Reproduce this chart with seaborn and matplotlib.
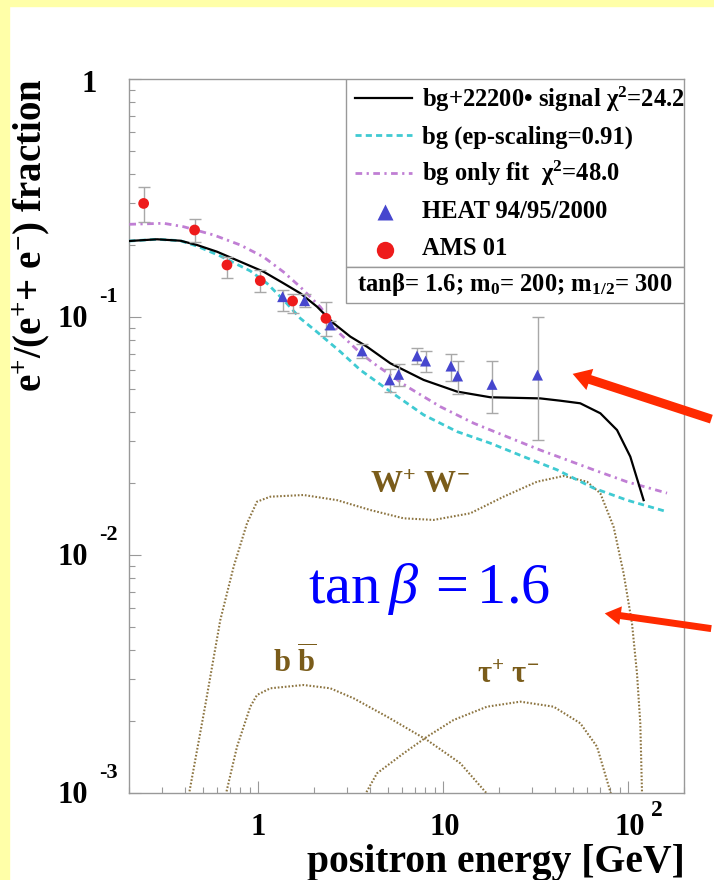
import matplotlib
matplotlib.use("Agg")
import matplotlib.pyplot as plt
import matplotlib.transforms as mtransforms
from matplotlib.lines import Line2D
from matplotlib.patches import Rectangle, FancyArrowPatch
from matplotlib.ticker import FixedLocator, LogLocator, NullFormatter
import seaborn as sns

# ---------------- data ----------------
ams_e = [0.240, 0.4525, 0.677, 1.025, 1.532, 2.32]
ams_frac = [0.300, 0.232, 0.1654, 0.1421, 0.1167, 0.0987]
ams_lo = [0.2514, 0.2072, 0.1454, 0.1277, 0.1042, 0.0832]
ams_hi = [0.3508, 0.2580, 0.1781, 0.1576, 0.1245, 0.1152]

heat_e = [1.353, 1.779, 2.449, 3.636, 5.125, 5.733, 7.21, 8.02, 11.0, 11.95, 18.33, 32.3]
heat_frac = [0.1217, 0.1171, 0.0926, 0.0720, 0.0544, 0.0574, 0.0686, 0.0653, 0.0622, 0.0565, 0.0521, 0.0570]
heat_lo = [0.1063, 0.1105, 0.0891, 0.0675, 0.0486, 0.0513, 0.0633, 0.0589, 0.0540, 0.0475, 0.0396, 0.0304]
heat_hi = [0.1299, 0.1249, 0.0962, 0.0770, 0.0605, 0.0633, 0.0741, 0.0722, 0.0699, 0.0655, 0.0655, 0.1003]

signal_e = [0.2008, 0.2835, 0.3788, 0.4661, 0.5979, 0.7991, 1.068, 1.370, 1.687, 2.077, 2.553,
            3.143, 3.869, 5.171, 7.827, 11.86, 17.95, 33.42, 42.85, 54.95, 70.6, 86.9, 102.5, 121.0]
signal_frac = [0.2086, 0.2121, 0.2092, 0.2007, 0.1881, 0.1708, 0.1550, 0.1385, 0.1258, 0.1105, 0.0941,
               0.0827, 0.0750, 0.0639, 0.0544, 0.0486, 0.0460, 0.0455, 0.0445, 0.0434, 0.0394, 0.0335,
               0.0259, 0.0170]

bgscale_e = [0.2008, 0.2835, 0.3788, 0.4661, 0.6230, 0.9052, 1.114, 1.370, 1.687, 2.077, 2.775,
             3.559, 5.171, 7.827, 11.86, 17.95, 27.17, 41.18, 64.93, 98.4, 161.9]
bgscale_frac = [0.2086, 0.2121, 0.2092, 0.1985, 0.1804, 0.1561, 0.1385, 0.1179, 0.0987, 0.0865, 0.0715,
                0.0599, 0.0486, 0.0388, 0.0330, 0.0295, 0.0259, 0.0228, 0.0191, 0.0170, 0.0152]

bgfit_e = [0.2008, 0.3078, 0.3946, 0.5733, 0.7991, 1.068, 1.370, 1.687, 2.163, 2.775, 3.559, 4.201,
           6.366, 9.634, 14.58, 22.10, 33.42, 42.85, 64.93, 98.4, 161.9]
bgfit_frac = [0.2452, 0.2476, 0.2395, 0.2211, 0.2007, 0.1787, 0.1545, 0.1337, 0.1102, 0.0848, 0.0706,
              0.0639, 0.0510, 0.0420, 0.0358, 0.0314, 0.0276, 0.0257, 0.0228, 0.0203, 0.0182]

ww_e = [0.418, 0.517, 0.623, 0.7356, 0.8689, 0.984, 1.161, 1.757, 2.664, 4.031, 6.101, 8.864, 13.99,
        21.18, 32.10, 44.70, 59.8, 70.6, 83.25, 94.3, 104.7, 111.4, 116.1, 118.8]
ww_frac = [0.00095, 0.00234, 0.00533, 0.00893, 0.01359, 0.01675, 0.01758, 0.01787, 0.0170, 0.01545,
           0.01426, 0.01404, 0.01497, 0.01758, 0.02032, 0.02148, 0.02032, 0.01816, 0.01315, 0.00838,
           0.00516, 0.00318, 0.00196, 0.00095]

bb_e = [0.660, 0.767, 0.9052, 0.984, 1.161, 1.757, 2.450, 3.274, 4.963, 8.166, 12.36, 18.1]
bb_frac = [0.00095, 0.001565, 0.002305, 0.002582, 0.002754, 0.002843, 0.002754, 0.002500, 0.002093,
           0.001670, 0.001333, 0.00095]

tau_e = [3.68, 4.381, 6.101, 8.166, 11.37, 17.23, 26.08, 39.48, 55.03, 67.74, 81.9]
tau_frac = [0.00095, 0.001210, 0.001468, 0.001724, 0.002027, 0.002305, 0.002420, 0.002305, 0.001963,
            0.001565, 0.00095]

legend_labels = [
    "bg+22200\u2022 signal \u03c7$^{\\mathbf{2}}$=24.2",
    "bg (ep-scaling=0.91)",
    "bg only fit  \u03c7$^{\\mathbf{2}}$=48.0",
    "HEAT 94/95/2000",
    "AMS 01",
]
param_text = "tan\u03b2= 1.6; m$_{\\mathbf{0}}$= 200; m$_{\\mathbf{1/2}}$= 300"

# ---------------- style ----------------
plt.rcParams["font.family"] = ["Liberation Serif", "DejaVu Serif"]
plt.rcParams["mathtext.fontset"] = "custom"
plt.rcParams["mathtext.rm"] = "Liberation Serif"
plt.rcParams["mathtext.it"] = "Liberation Serif:italic"
plt.rcParams["mathtext.bf"] = "Liberation Serif:bold"

YEL = "#FFFFA8"
CYAN = "#3FCAD2"
MAG = "#C07ED4"
BROWN = "#8C7440"
LABEL_BROWN = "#7A5C1A"
BLUE = "#4646CE"
RED = "#EE1B1B"
GRAY = "#999999"
W, H = 714, 880
AX_L, AX_R, AX_T, AX_B = 129, 684, 79, 793

fig = plt.figure(figsize=(W / 100, H / 100), dpi=100)
fig.patch.set_facecolor("white")
fig.add_artist(Rectangle((0, 0), 9 / W, 1, transform=fig.transFigure, color=YEL, zorder=0))
fig.add_artist(Rectangle((0, 1 - 6 / H), 1, 6 / H, transform=fig.transFigure, color=YEL, zorder=0))

ax = fig.add_axes([AX_L / W, (H - AX_B) / H, (AX_R - AX_L) / W, (AX_B - AX_T) / H])
ax.set_xscale("log")
ax.set_yscale("log")
ax.set_xlim(0.2, 200)
ax.set_ylim(1e-3, 1)


def P(px, py):
    """pixel position in the picture -> axes fraction"""
    return (px - AX_L) / (AX_R - AX_L), (AX_B - py) / (AX_B - AX_T)


# ---------------- curves ----------------
common = dict(ax=ax, estimator=None, sort=False, legend=False)
dot = (0, (0.8, 0.9))
dash = (0, (2.2, 1.5))
dashdot = (0, (2.4, 1.6, 0.8, 1.6))
sns.lineplot(x=ww_e, y=ww_frac, color=BROWN, lw=1.5, linestyle=dot, zorder=2, **common)
sns.lineplot(x=bb_e, y=bb_frac, color=BROWN, lw=1.5, linestyle=dot, zorder=2, **common)
sns.lineplot(x=tau_e, y=tau_frac, color=BROWN, lw=1.5, linestyle=dot, zorder=2, **common)
sns.lineplot(x=bgscale_e, y=bgscale_frac, color=CYAN, lw=2.0, linestyle=dash, zorder=3, **common)
sns.lineplot(x=bgfit_e, y=bgfit_frac, color=MAG, lw=2.0, linestyle=dashdot, zorder=3, **common)
sns.lineplot(x=signal_e, y=signal_frac, color="black", lw=1.6, zorder=4, **common)

# ---------------- data points ----------------
ax.errorbar(ams_e, ams_frac,
            yerr=[[m - l for m, l in zip(ams_frac, ams_lo)], [h - m for m, h in zip(ams_frac, ams_hi)]],
            fmt="none", ecolor="#A8A8A8", elinewidth=1, capsize=4, capthick=1, zorder=4.5)
ax.errorbar(heat_e, heat_frac,
            yerr=[[m - l for m, l in zip(heat_frac, heat_lo)], [h - m for m, h in zip(heat_frac, heat_hi)]],
            fmt="none", ecolor="#A8A8A8", elinewidth=1, capsize=4, capthick=1, zorder=4.5)
sns.scatterplot(x=heat_e, y=heat_frac, ax=ax, marker="^", s=62, color=BLUE, edgecolor="none",
                legend=False, zorder=5)
sns.scatterplot(x=ams_e, y=ams_frac, ax=ax, marker="o", s=60, color=RED, edgecolor="none",
                legend=False, zorder=5)

# ---------------- axes, ticks ----------------
for s in ax.spines.values():
    s.set_color(GRAY)
    s.set_linewidth(1)
ax.xaxis.set_major_locator(FixedLocator([1, 10, 100]))
ax.xaxis.set_minor_locator(LogLocator(base=10, subs=[2, 3, 4, 5, 6, 7, 8, 9], numticks=20))
ax.yaxis.set_major_locator(FixedLocator([1e-3, 1e-2, 1e-1, 1]))
ax.yaxis.set_minor_locator(LogLocator(base=10, subs=[2, 3, 4, 5, 6, 7, 8, 9], numticks=20))
ax.xaxis.set_minor_formatter(NullFormatter())
ax.yaxis.set_minor_formatter(NullFormatter())
ax.tick_params(which="both", direction="in", top=False, right=False, colors=GRAY,
               labelbottom=False, labelleft=False, width=0.8)
ax.tick_params(which="major", length=8.5)
ax.tick_params(which="minor", length=4.5)

tick_font = dict(family="Liberation Serif", weight="bold", color="black")
ytr = mtransforms.blended_transform_factory(ax.transAxes, ax.transData)
xtr = mtransforms.blended_transform_factory(ax.transData, ax.transAxes)
for val, lab, exp in [(1e-1, "10", "-1"), (1e-2, "10", "-2"), (1e-3, "10", "-3")]:
    ax.annotate(lab, xy=(0, val), xycoords=ytr, xytext=(-41, -10), textcoords="offset pixels",
                ha="right", va="baseline", fontsize=22, **tick_font)
    ax.annotate(exp, xy=(0, val), xycoords=ytr, xytext=(-30, 15), textcoords="offset pixels",
                ha="left", va="baseline", fontsize=16, **tick_font)
ax.annotate("1", xy=(0, 1), xycoords=ytr, xytext=(-32, -13), textcoords="offset pixels",
            ha="right", va="baseline", fontsize=22, **tick_font)
for val, lab, dx in [(1, "1", 0), (10, "10", 1), (100, "10", 1.5)]:
    ax.annotate(lab, xy=(val, 0), xycoords=xtr, xytext=(dx, -42), textcoords="offset pixels",
                ha="center", va="baseline", fontsize=22, **tick_font)
ax.annotate("2", xy=(100, 0), xycoords=xtr, xytext=(29, -23), textcoords="offset pixels",
            ha="center", va="baseline", fontsize=17, **tick_font)

fig.text(685 / W, 8.5 / H, "positron energy [GeV]", ha="right", va="baseline", fontsize=28.5,
         fontweight="bold")
fig.text(31 / W, (H - 235) / H, "e$^{\\mathbf{+}}$/(e$^{\\mathbf{+}}$+ e$^{\\mathbf{-}}$) fraction",
         rotation=90, ha="center", va="center", fontsize=28, fontweight="bold")

# ---------------- annotations ----------------
ax.text(*P(370, 493), "W$^{\\mathbf{+}}$ W$^{\\mathbf{-}}$", transform=ax.transAxes, ha="left",
        va="baseline", fontsize=23, fontweight="bold", color=LABEL_BROWN)
ax.text(*P(273, 673), "$\\mathbf{b}\\ \\overline{\\mathbf{b}}$", transform=ax.transAxes, ha="left",
        va="baseline", fontsize=22, color=LABEL_BROWN)
ax.text(*P(477, 683), "\u03c4$^{\\mathbf{+}}$ \u03c4$^{\\mathbf{-}}$", transform=ax.transAxes, ha="left",
        va="baseline", fontsize=22, fontweight="bold", color=LABEL_BROWN)
ax.text(*P(308, 603), "$\\mathrm{tan}\\:\\beta\\:=1.6$", transform=ax.transAxes, ha="left",
        va="baseline", fontsize=42, color="#0000FF")

# ---------------- legend (boxed, ROOT style) ----------------
lx0, ly0 = P(346, 303)
lx1, lymid = P(684, 267)
ax.add_patch(Rectangle((lx0, lymid), lx1 - lx0, 1 - lymid, transform=ax.transAxes, facecolor="white",
                       edgecolor=GRAY, lw=1, zorder=6))
ax.add_patch(Rectangle((lx0, ly0), lx1 - lx0, lymid - ly0, transform=ax.transAxes, facecolor="white",
                       edgecolor=GRAY, lw=1, zorder=6))
row_sample_y = [98.3, 135, 173.3, 211.7, 250]
row_base_y = [106.7, 144, 180.5, 218.3, 255]
samples = [
    dict(color="black", lw=1.6),
    dict(color=CYAN, lw=2.0, ls=dash),
    dict(color=MAG, lw=2.0, ls=dashdot),
    dict(ls="none", marker="^", ms=12, color=BLUE, mec="none"),
    dict(ls="none", marker="o", ms=12.5, color=RED, mec="none"),
]
for i, (lab, kw) in enumerate(zip(legend_labels, samples)):
    xa, ya = P(355, row_sample_y[i])
    xb, _ = P(412, row_sample_y[i])
    if kw.get("marker"):
        xm, _ = P(385, row_sample_y[i])
        ln = Line2D([xm], [ya], transform=ax.transAxes, clip_on=False, zorder=7, **kw)
    else:
        ln = Line2D([xa, xb], [ya, ya], transform=ax.transAxes, clip_on=False, zorder=7, **kw)
    ax.add_line(ln)
    ax.text(*P(422, row_base_y[i]), lab, transform=ax.transAxes, ha="left", va="baseline",
            fontsize=17.7, fontweight="bold", zorder=7)
ax.text(*P(357, 291.5), param_text, transform=ax.transAxes, ha="left", va="baseline", fontsize=17.7,
        fontweight="bold", zorder=7)

# ---------------- arrows ----------------
fig.add_artist(FancyArrowPatch(posA=(714 / W, (H - 420) / H), posB=(570 / W, (H - 373) / H),
                               transform=fig.transFigure,
                               arrowstyle="simple,head_length=1.3,head_width=1.6,tail_width=0.65",
                               mutation_scale=10, color="#FF2A00", lw=0, zorder=10))
fig.add_artist(FancyArrowPatch(posA=(714 / W, (H - 629) / H), posB=(602 / W, (H - 613) / H),
                               transform=fig.transFigure,
                               arrowstyle="simple,head_length=1.15,head_width=1.35,tail_width=0.5",
                               mutation_scale=10, color="#FF2A00", lw=0, zorder=10))

fig.savefig("out.png", dpi=100, facecolor="white")
